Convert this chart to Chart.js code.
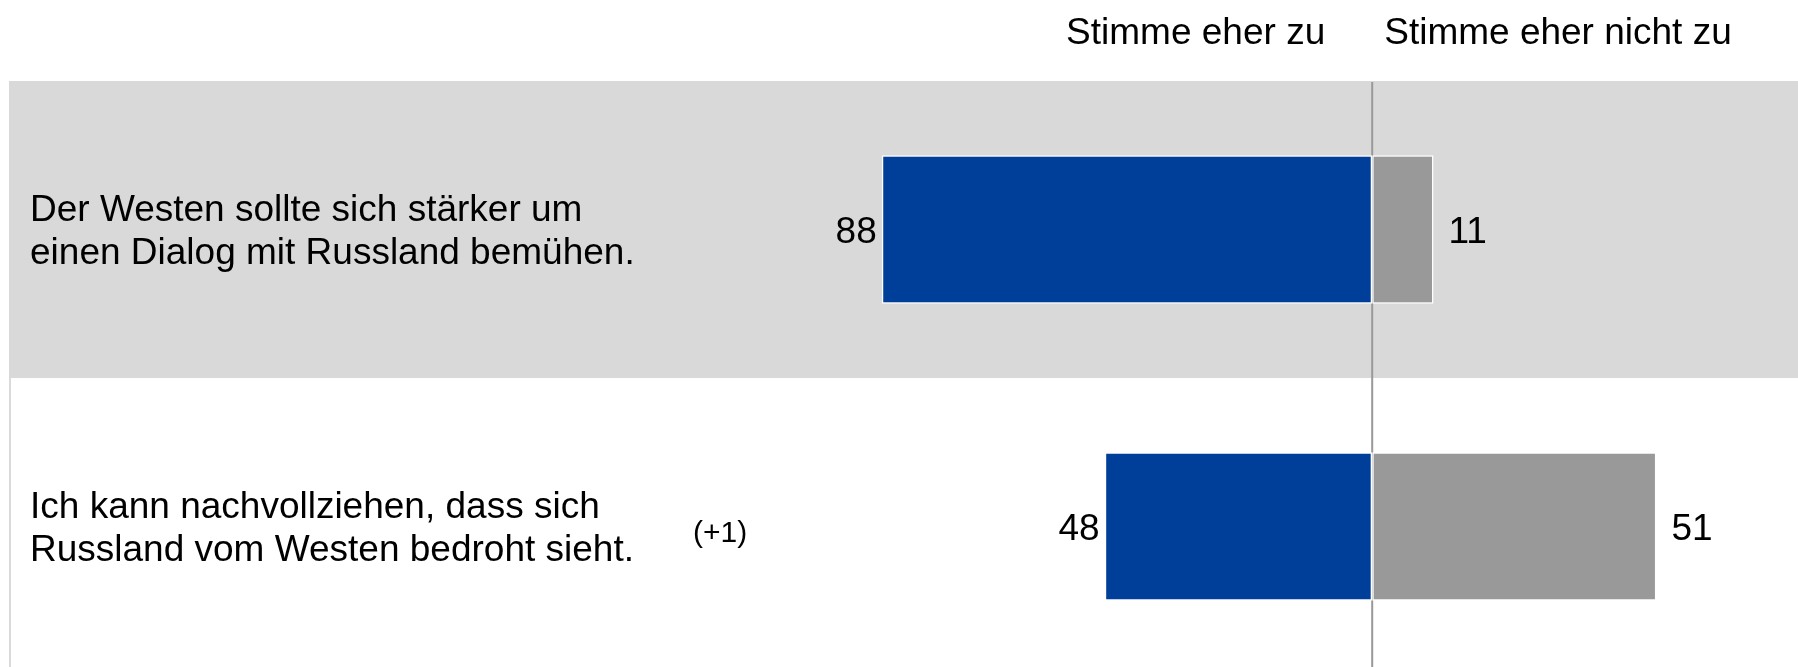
<!DOCTYPE html>
<html>
<head>
  <meta charset="utf-8">
  <title>Dialog mit Russland</title>
  <script src="https://cdn.jsdelivr.net/npm/chart.js"></script>
  <style>
    body {
      margin: 0;
      background: #ffffff;
      overflow: hidden;
    }
    .chart-wrapper {
      width: 1798px;
      height: 675px;
    }
  </style>
</head>
<body>
  <div class="chart-wrapper">
    <canvas id="barChart"></canvas>
  </div>

  <script>
    const statements = [
      ['Der Westen sollte sich stärker um', 'einen Dialog mit Russland bemühen.'],
      ['Ich kann nachvollziehen, dass sich', 'Russland vom Westen bedroht sieht.']
    ];
    const changes = ['', '(+1)'];
    const agree = [88, 48];
    const disagree = [11, 51];
    const headers = ['Stimme eher zu', 'Stimme eher nicht zu'];

    const FONT = '"Liberation Sans", Arial, sans-serif';

    const decorations = {
      id: 'decorations',
      beforeDatasetsDraw(chart) {
        const { ctx, chartArea, scales } = chart;
        const x0 = scales.x.getPixelForValue(0);
        ctx.save();
        // grey band behind the first row
        const top = chartArea.top;
        const mid = (scales.y.getPixelForValue(0) + scales.y.getPixelForValue(1)) / 2;
        ctx.fillStyle = '#d9d9d9';
        ctx.fillRect(chartArea.left, top, chartArea.right - chartArea.left, mid - top);
        // left edge line
        ctx.fillStyle = '#dadada';
        ctx.fillRect(chartArea.left, mid, 2, chartArea.bottom - mid);
        // zero line
        ctx.fillStyle = '#999999';
        ctx.fillRect(x0 - 1, chartArea.top + 1, 2, chartArea.bottom - chartArea.top);
        ctx.restore();
      },
      afterDatasetsDraw(chart) {
        const { ctx, chartArea, scales } = chart;
        const x0 = scales.x.getPixelForValue(0);
        ctx.save();
        ctx.fillStyle = '#000000';
        ctx.font = '37px ' + FONT;
        ctx.textBaseline = 'alphabetic';

        // column headers
        ctx.textAlign = 'right';
        ctx.fillText(headers[0], x0 - 47, 44);
        ctx.textAlign = 'left';
        ctx.fillText(headers[1], x0 + 12, 44);

        statements.forEach((lines, i) => {
          const yc = scales.y.getPixelForValue(i);
          ctx.font = '37px ' + FONT;
          ctx.textAlign = 'left';
          ctx.fillText(lines[0], chartArea.left + 21, yc - 9);
          ctx.fillText(lines[1], chartArea.left + 21, yc + 34);

          if (changes[i]) {
            ctx.font = '30px ' + FONT;
            ctx.fillText(changes[i], 693, yc + 15);
          }

          ctx.font = '37px ' + FONT;
          ctx.textAlign = 'right';
          ctx.fillText(String(agree[i]), scales.x.getPixelForValue(-agree[i]) - 5, yc + 13);
          ctx.textAlign = 'left';
          ctx.fillText(String(disagree[i]), scales.x.getPixelForValue(disagree[i]) + 15, yc + 13);
        });
        ctx.restore();
      }
    };

    new Chart(document.getElementById('barChart').getContext('2d'), {
      type: 'bar',
      data: {
        labels: statements.map(s => s.join(' ')),
        datasets: [
          {
            label: headers[0],
            data: agree.map(v => -v),
            backgroundColor: '#003f99',
            borderColor: '#ffffff',
            borderWidth: 1.5,
            borderSkipped: false
          },
          {
            label: headers[1],
            data: disagree,
            backgroundColor: '#999999',
            borderColor: '#ffffff',
            borderWidth: 1.5,
            borderSkipped: false
          }
        ]
      },
      options: {
        indexAxis: 'y',
        responsive: true,
        maintainAspectRatio: false,
        animation: false,
        layout: { padding: { left: 9, top: 81, right: 0, bottom: 0 } },
        categoryPercentage: 0.5,
        barPercentage: 1,
        plugins: {
          legend: { display: false },
          tooltip: { enabled: false }
        },
        scales: {
          x: { stacked: true, display: false, min: -244.6, max: 76.4 },
          y: { stacked: true, display: false }
        }
      },
      plugins: [decorations]
    });
  </script>
</body>
</html>
